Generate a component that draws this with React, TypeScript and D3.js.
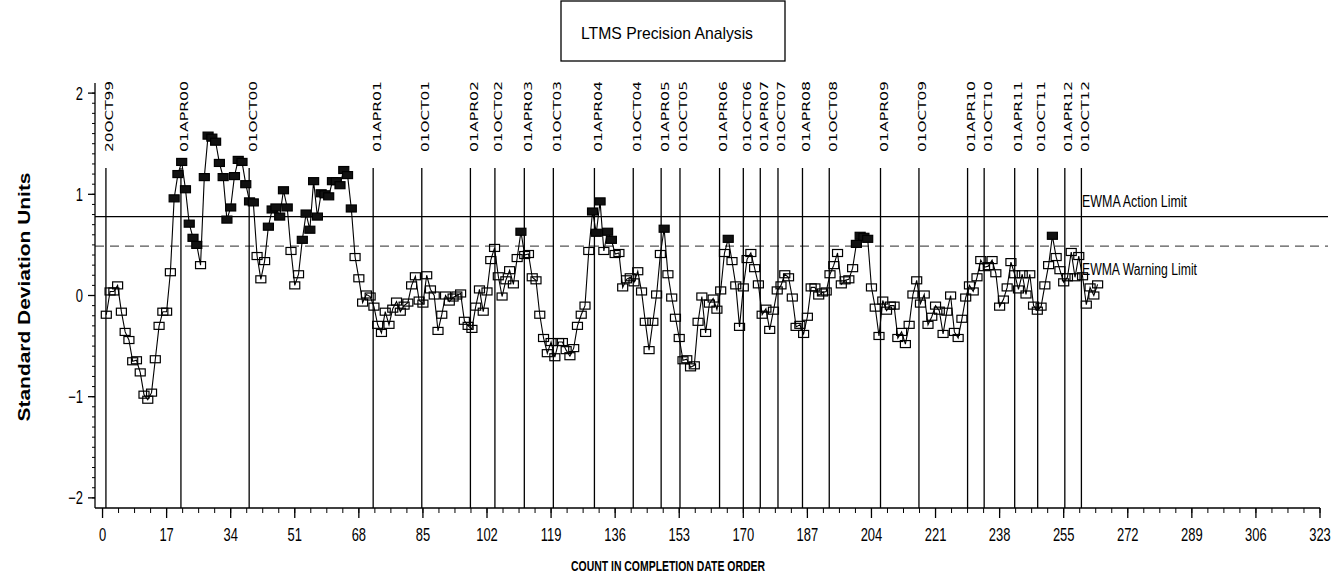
import React from "react";
import * as d3 from "d3";

// EWMA values in completion order (count 1..264)
const ewmaValues: number[] = [
  -0.19, 0.04, 0.04, 0.10, -0.16, -0.36, -0.44, -0.65, -0.64, -0.76,
  -0.98, -1.03, -0.96, -0.63, -0.30, -0.16, -0.16, 0.23, 0.96, 1.20,
  1.32, 1.05, 0.71, 0.57, 0.50, 0.30, 1.17, 1.58, 1.56, 1.52,
  1.31, 1.17, 0.75, 0.87, 1.18, 1.34, 1.32, 1.10, 0.93, 0.92,
  0.39, 0.16, 0.34, 0.68, 0.85, 0.87, 0.78, 1.04, 0.87, 0.44,
  0.10, 0.21, 0.55, 0.81, 0.65, 1.13, 0.78, 1.01, 1.00, 0.98,
  1.13, 1.13, 1.09, 1.24, 1.19, 0.86, 0.38, 0.17, -0.07, 0.01,
  -0.01, -0.11, -0.29, -0.37, -0.16, -0.29, -0.13, -0.06, -0.16, -0.10,
  -0.07, 0.10, 0.19, -0.05, -0.08, 0.20, 0.06, 0.00, -0.35, -0.19,
  0.00, -0.06, -0.02, 0.00, 0.02, -0.25, -0.30, -0.33, -0.11, 0.06,
  -0.16, 0.04, 0.35, 0.47, 0.19, -0.01, 0.15, 0.25, 0.11, 0.37,
  0.63, 0.40, 0.41, 0.18, 0.15, -0.19, -0.42, -0.57, -0.46, -0.61,
  -0.46, -0.46, -0.54, -0.60, -0.52, -0.30, -0.19, -0.10, 0.44, 0.83,
  0.62, 0.93, 0.44, 0.63, 0.55, 0.41, 0.42, 0.08, 0.16, 0.18,
  0.13, 0.24, 0.04, -0.26, -0.54, -0.26, 0.01, 0.41, 0.66, 0.21,
  -0.02, -0.22, -0.42,
  -0.64, -0.63, -0.71, -0.69, -0.26, -0.01, -0.37, -0.08, -0.03, -0.14,
  0.05, 0.42, 0.56, 0.34, 0.10, -0.31, 0.08, 0.36, 0.42, 0.27,
  0.11, -0.19, -0.13, -0.34, -0.15, 0.05, 0.10, 0.21, 0.18, -0.02,
  -0.31, -0.29, -0.38, -0.21, 0.08, 0.08, 0.00, 0.03, 0.04, 0.21,
  0.30, 0.42, 0.11, 0.15, 0.16, 0.27, 0.51, 0.59, 0.58, 0.56,
  0.08, -0.12, -0.40,
  -0.05, -0.15, -0.10, -0.10, -0.42, -0.36, -0.48, -0.29, 0.01, 0.15,
  -0.08, 0.01, -0.29, -0.21, -0.10, -0.15, -0.38, -0.16, 0.00, -0.36,
  -0.42, -0.23, -0.02, 0.10, 0.04, 0.18, 0.35, 0.28, 0.29, 0.35,
  0.22, -0.11, -0.04, 0.08, 0.33, 0.21, 0.06, 0.21, 0.01, 0.21,
  -0.10, -0.15, -0.11, 0.10, 0.30, 0.59, 0.38, 0.25, 0.13, 0.18,
  0.43, 0.18, 0.39, 0.19, -0.09, 0.08, 0.00, 0.11,
];

// Date markers (vertical reference lines) and their count positions
const eventLabels: string[] = [
  "20OCT99", "01APR00", "01OCT00", "01APR01", "01OCT01", "01APR02", "01OCT02",
  "01APR03", "01OCT03", "01APR04", "01OCT04", "01APR05", "01OCT05", "01APR06",
  "01OCT06", "01APR07", "01OCT07", "01APR08", "01OCT08", "01APR09", "01OCT09",
  "01APR10", "01OCT10", "01APR11", "01OCT11", "01APR12", "01OCT12",
];
const eventCounts: number[] = [
  0.9, 20.8, 38.9, 71.8, 84.7, 97.6, 104.1, 111.9, 119.6, 130.5, 140.8, 148.2,
  153.2, 163.7, 170.0, 174.5, 179.2, 185.7, 192.8, 206.4, 216.6, 229.5, 233.9,
  242.0, 248.1, 255.3, 259.7,
];

const actionLimit = 0.78;
const warningLimit = 0.488;

const xTicks: number[] = [0, 17, 34, 51, 68, 85, 102, 119, 136, 153, 170, 187, 204, 221, 238, 255, 272, 289, 306, 323];
const yTicks: number[] = [-2, -1, 0, 1, 2];

const W = 1334;
const H = 580;

export default function App() {
  const x = d3.scaleLinear().domain([-2, 323]).range([95, 1320]);
  const y = d3.scaleLinear().domain([-2.1, 2.1]).range([508, 83]);
  const axisY = y(-2.1);
  const axisX = x(-2);

  const line = d3
    .line<number>()
    .x((_, i) => x(i + 1))
    .y((d) => y(d));

  const xMinor = d3.range(0, 323.01, 17 / 4);
  const yMinor = d3.range(-2, 2.001, 0.1);

  const narrow = "'Liberation Sans Narrow', 'Liberation Sans', Arial, sans-serif";
  const fmt = (v: number) => (v < 0 ? "\u2212" + Math.abs(v) : String(v));

  return (
    <svg
      width={W}
      height={H}
      viewBox={`0 0 ${W} ${H}`}
      style={{ position: "absolute", left: 0, top: 0, display: "block", background: "#fff" }}
    >
      {/* title box */}
      <rect x={561} y={1} width={224} height={60} fill="none" stroke="#000" strokeWidth={1.3} />
      <text x={667} y={39} textAnchor="middle" fontFamily={narrow} fontSize={17}
        textLength={172} lengthAdjust="spacingAndGlyphs">LTMS Precision Analysis</text>

      {/* limits */}
      <line x1={axisX} x2={1328} y1={y(actionLimit)} y2={y(actionLimit)} stroke="#000" strokeWidth={1.3} />
      <line x1={axisX} x2={1328} y1={y(warningLimit)} y2={y(warningLimit)} stroke="#555" strokeWidth={1.3} strokeDasharray="9,6" />
      <text x={1082} y={207} fontFamily={narrow} fontSize={16} textLength={105} lengthAdjust="spacingAndGlyphs">EWMA Action Limit</text>
      <text x={1082} y={275} fontFamily={narrow} fontSize={16} textLength={115} lengthAdjust="spacingAndGlyphs">EWMA Warning Limit</text>

      {/* event lines + labels */}
      {eventCounts.map((c, i) => (
        <g key={"ev" + i}>
          <line x1={x(c)} x2={x(c)} y1={168} y2={axisY} stroke="#000" strokeWidth={1.3} />
          <text
            transform={`translate(${x(c) + 7.5},152) rotate(-90)`}
            fontFamily="'DejaVu Sans', sans-serif"
            fontSize={11}
            textLength={71}
            lengthAdjust="spacingAndGlyphs"
          >
            {eventLabels[i]}
          </text>
        </g>
      ))}

      {/* data line */}
      <path d={line(ewmaValues) || ""} fill="none" stroke="#000" strokeWidth={1.1} />
      {ewmaValues.map((v, i) => (
        <rect
          key={"p" + i}
          x={x(i + 1) - 5}
          y={y(v) - 3.5}
          width={10}
          height={7}
          fill={v > warningLimit ? "#111" : "none"}
          stroke="#000"
          strokeWidth={1.2}
        />
      ))}

      {/* y axis */}
      <line x1={axisX} x2={axisX} y1={83} y2={axisY} stroke="#000" strokeWidth={1.3} />
      {yMinor.map((v, i) => (
        <line key={"ym" + i} x1={axisX - 3} x2={axisX} y1={y(v)} y2={y(v)} stroke="#000" strokeWidth={1} />
      ))}
      {yTicks.map((v) => (
        <g key={"yt" + v}>
          <line x1={axisX - 7} x2={axisX} y1={y(v)} y2={y(v)} stroke="#000" strokeWidth={1.3} />
          <text transform={`translate(83,${y(v) + 6.5}) scale(0.72,1)`} textAnchor="end"
            fontFamily={narrow} fontSize={18}>{fmt(v)}</text>
        </g>
      ))}

      {/* x axis */}
      <line x1={axisX} x2={1320} y1={axisY} y2={axisY} stroke="#000" strokeWidth={1.3} />
      {xMinor.map((v, i) => (
        <line key={"xm" + i} x1={x(v)} x2={x(v)} y1={axisY} y2={axisY + 5} stroke="#000" strokeWidth={1} />
      ))}
      {xTicks.map((v) => (
        <g key={"xt" + v}>
          <line x1={x(v)} x2={x(v)} y1={axisY} y2={axisY + 10} stroke="#000" strokeWidth={1.3} />
          <text transform={`translate(${Math.min(x(v), 1320)},541) scale(0.72,1)`} textAnchor="middle"
            fontFamily={narrow} fontSize={18}>{v}</text>
        </g>
      ))}

      {/* axis titles */}
      <text x={668} y={571} textAnchor="middle" fontFamily={narrow} fontSize={14} fontWeight="bold"
        textLength={194} lengthAdjust="spacingAndGlyphs">COUNT IN COMPLETION DATE ORDER</text>
      <text transform="translate(30,297) rotate(-90)" textAnchor="middle" fontFamily="'Liberation Sans', Arial, sans-serif"
        fontSize={16} fontWeight="bold" textLength={249} lengthAdjust="spacingAndGlyphs">
        Standard Deviation Units
      </text>
    </svg>
  );
}
